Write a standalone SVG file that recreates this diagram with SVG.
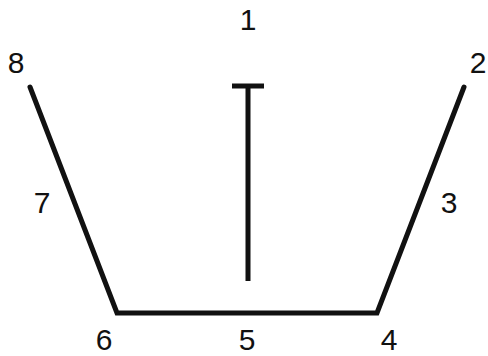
<svg xmlns="http://www.w3.org/2000/svg" width="488" height="356" viewBox="0 0 488 356">
<style>
.ln{fill:none;stroke:#111;stroke-width:5;stroke-linecap:round;stroke-linejoin:miter}
.lb{font-family:"Liberation Sans",Arial,sans-serif;font-size:30px;fill:#111;text-anchor:middle}
</style>
<rect width="488" height="356" fill="#fff"/>
<g id="connectors">
<polyline class="ln" points="30,87 117,313 377,313 464,87"/>
<line class="ln" x1="248" y1="87" x2="248" y2="281" style="stroke-linecap:butt"/>
<line class="ln" x1="232" y1="86" x2="264" y2="86" style="stroke-linecap:butt"/>
</g>
<g id="labels">
<text class="lb" x="248" y="30">1</text>
<text class="lb" x="478" y="73">2</text>
<text class="lb" x="449" y="213">3</text>
<text class="lb" x="389" y="350">4</text>
<text class="lb" x="247" y="350">5</text>
<text class="lb" x="104" y="350">6</text>
<text class="lb" x="42" y="213">7</text>
<text class="lb" x="16" y="73">8</text>
</g>
</svg>
